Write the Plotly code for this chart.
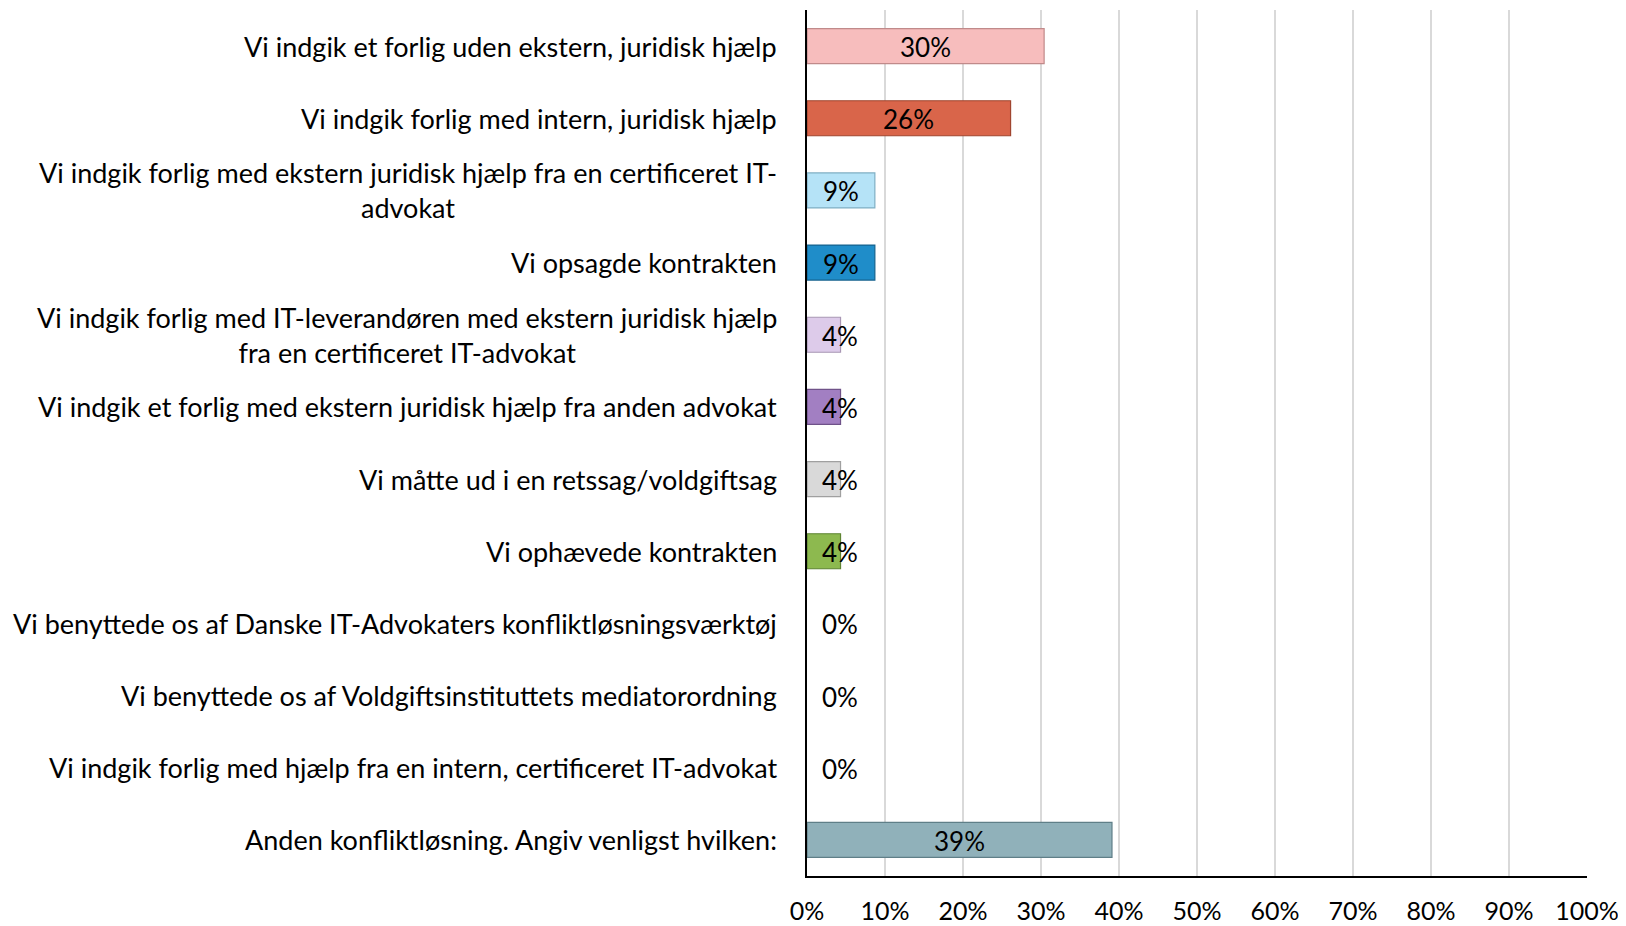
import plotly.graph_objects as go

categories = [
    "Vi indgik et forlig uden ekstern, juridisk hjælp",
    "Vi indgik forlig med intern, juridisk hjælp",
    "Vi indgik forlig med ekstern juridisk hjælp fra en certificeret IT-<br>advokat",
    "Vi opsagde kontrakten",
    "Vi indgik forlig med IT-leverandøren med ekstern juridisk hjælp<br>fra en certificeret IT-advokat",
    "Vi indgik et forlig med ekstern juridisk hjælp fra anden advokat",
    "Vi måtte ud i en retssag/voldgiftsag",
    "Vi ophævede kontrakten",
    "Vi benyttede os af Danske IT-Advokaters konfliktløsningsværktøj",
    "Vi benyttede os af Voldgiftsinstituttets mediatorordning",
    "Vi indgik forlig med hjælp fra en intern, certificeret IT-advokat",
    "Anden konfliktløsning. Angiv venligst hvilken:",
]
values = [30.4, 26.1, 8.7, 8.7, 4.3, 4.3, 4.3, 4.3, 0, 0, 0, 39.1]
colors = ["#F7BDBD", "#D9654A", "#B5E3F7", "#1F8DC9", "#DDCBEA", "#A27FC2",
          "#D9D9D9", "#8DB94F", "#FFFFFF", "#FFFFFF", "#FFFFFF", "#90B1BA"]
edges = ["#C08A8A", "#A0452F", "#7FAFC4", "#15628E", "#A896B4", "#6F5289",
         "#A0A0A0", "#5E8432", "#FFFFFF", "#FFFFFF", "#FFFFFF", "#5F7F88"]
tick_vals = list(range(0, 101, 10))
tick_text = [f"{v}%" for v in tick_vals]

FONT = "Lato"
fs_cat = 27
fs_num = 26
fs_tick = 25

ypos = list(range(len(categories)))

fig = go.Figure()
fig.add_trace(go.Bar(
    y=ypos, x=values, orientation="h",
    marker=dict(color=colors, line=dict(color=edges, width=1.2)),
    hoverinfo="skip", showlegend=False,
))

# data labels (centred in the bar, or just past the axis for tiny bars)
for i, v in enumerate(values):
    fig.add_annotation(
        x=max(v / 2, 4.2), y=i, xref="x", yref="y", yshift=-1,
        text=f"{round(v)}%", showarrow=False,
        xanchor="center", yanchor="middle",
        font=dict(family=FONT, size=fs_num, color="black"),
    )

for i, c in enumerate(categories):
    fig.add_annotation(
        x=0, xref="paper", xshift=-28, y=i, yref="y",
        text=c, showarrow=False, xanchor="right", yanchor="middle",
        align="center", font=dict(family=FONT, size=fs_cat, color="black"),
    )

# page body has an 8px default margin; compensate so the plot sits where the reference has it
fig.update_layout(
    width=1618, height=926,
    margin=dict(l=799, r=39, t=2, b=58),
    paper_bgcolor="white", plot_bgcolor="white",
    bargap=0.515,
    xaxis=dict(
        range=[0, 100], tickvals=tick_vals, ticktext=tick_text,
        showgrid=True, gridcolor="#D9D9D9", gridwidth=1.5,
        showline=True, linecolor="black", linewidth=2,
        ticks="", ticklabelstandoff=12, automargin=False,
        tickfont=dict(family=FONT, size=fs_tick, color="black"),
        zeroline=False,
    ),
    yaxis=dict(
        range=[len(categories) - 0.5, -0.5],
        showticklabels=False, showgrid=False, automargin=False,
        showline=True, linecolor="black", linewidth=2,
        zeroline=False, ticks="",
    ),
)

fig.write_html("out.html")
